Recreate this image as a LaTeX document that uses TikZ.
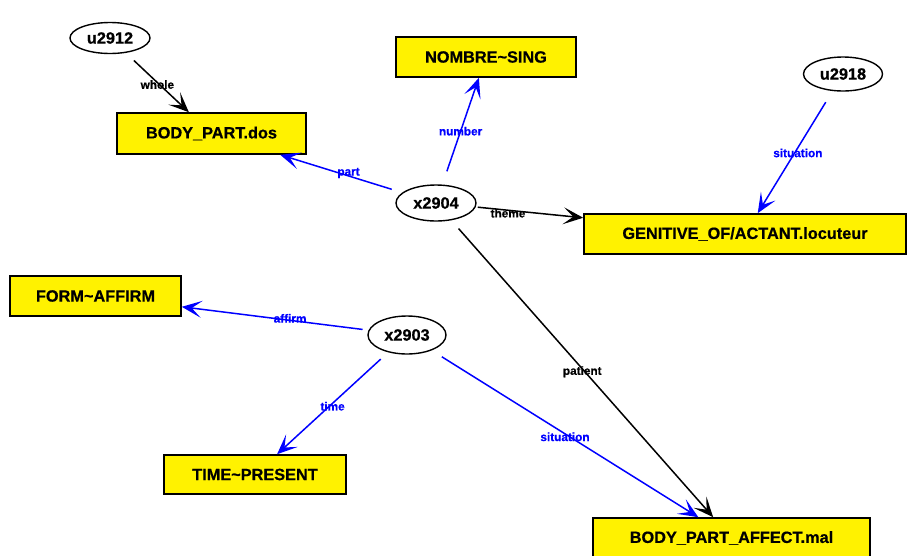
\documentclass[tikz,border=0pt]{standalone}
\usepackage{fontspec}
\setmainfont[BoldFeatures={FakeBold=0.6}]{Liberation Sans}
\usetikzlibrary{arrows.meta,shapes.geometric}
\begin{document}
\begin{tikzpicture}[x=1pt,y=-1pt,
 box/.style={draw=black, line width=1.6pt, fill=yellow, inner sep=0pt, font=\fontsize{16.3}{16}\selectfont\bfseries},
 ell/.style={draw=black, line width=1.4pt, ellipse, fill=white, inner sep=0pt, font=\fontsize{16.3}{16}\selectfont\bfseries},
 edge/.style={line width=1.5pt, -{Stealth[length=20pt,width=17pt,inset=10pt]}},
 lbl/.style={font=\fontsize{11.8}{12}\selectfont\bfseries, inner sep=0pt},
]
\useasboundingbox (0,0) rectangle (907,555);
% boxes
\node[box, minimum width=189pt, minimum height=41pt] (bpd) at (211.5,133.5) {BODY\_PART.dos};
\node[box, minimum width=180pt, minimum height=40pt] (nom) at (486,57) {NOMBRE\textasciitilde SING};
\node[box, minimum width=322pt, minimum height=40pt] (gen) at (745,234) {GENITIVE\_OF/ACTANT.locuteur};
\node[box, minimum width=171pt, minimum height=40pt] (form) at (95.5,296) {FORM\textasciitilde AFFIRM};
\node[box, minimum width=182pt, minimum height=39pt] (time) at (255,474.5) {TIME\textasciitilde PRESENT};
\node[box, minimum width=277pt, minimum height=40pt] (bpa) at (731.5,538) {BODY\_PART\_AFFECT.mal};
% ellipses
\node[ell, minimum width=80pt, minimum height=31pt] (u2912) at (110,38) {u2912};
\node[ell, minimum width=80pt, minimum height=36pt] (x2904) at (436,203) {x2904};
\node[ell, minimum width=79pt, minimum height=34pt] (u2918) at (843,74) {u2918};
\node[ell, minimum width=78pt, minimum height=38pt] (x2903) at (407,335) {x2903};
% edges
\draw[edge, black, shorten <=11pt] (u2912) -- node[lbl, pos=.5, yshift=-2pt]{whole} (bpd);
\draw[edge, blue, shorten <=11pt] (x2904) -- node[lbl, pos=.44, yshift=3pt]{part} (bpd);
\draw[edge, blue, shorten <=14pt] (x2904) -- node[lbl, pos=.5]{number} (nom);
\draw[edge, black, shorten <=2pt] (x2904) -- node[lbl, pos=.3, yshift=-3pt]{theme} (gen);
\draw[edge, blue, shorten <=13pt] (u2918) -- node[lbl, pos=.49, xshift=2pt, yshift=-2pt]{situation} (gen);
\draw[edge, black, shorten <=11pt] (x2904) -- node[lbl, pos=.5, yshift=-3pt]{patient} (bpa);
\draw[edge, blue, shorten <=6pt] (x2903) -- node[lbl, pos=.42, yshift=2pt]{affirm} (form);
\draw[edge, blue, shorten <=10pt] (x2903) -- node[lbl, pos=.5, yshift=-3pt]{time} (time);
\draw[edge, blue, shorten <=12pt] (x2903) -- node[lbl, pos=.5, yshift=-3pt]{situation} (bpa);
\end{tikzpicture}
\end{document}
